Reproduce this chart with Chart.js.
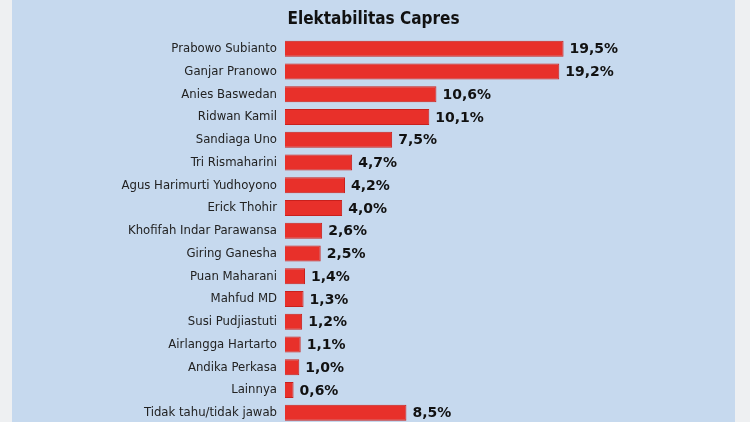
<!DOCTYPE html>
<html><head><meta charset="utf-8">
<script src="https://cdn.jsdelivr.net/npm/chart.js@4"></script>
<style>
html,body{margin:0;padding:0;width:750px;height:422px;overflow:hidden;background:#eef0f2;}
#wrap{position:absolute;left:12px;top:0;width:723px;height:432px;background:#c6d9ee;}
</style></head><body>
<div id="wrap"><canvas id="c" width="723" height="432"></canvas></div>
<script>
const categories=["Prabowo Subianto","Ganjar Pranowo","Anies Baswedan","Ridwan Kamil","Sandiaga Uno","Tri Rismaharini","Agus Harimurti Yudhoyono","Erick Thohir","Khofifah Indar Parawansa","Giring Ganesha","Puan Maharani","Mahfud MD","Susi Pudjiastuti","Airlangga Hartarto","Andika Perkasa","Lainnya","Tidak tahu/tidak jawab"];
const values=[19.5,19.2,10.6,10.1,7.5,4.7,4.2,4.0,2.6,2.5,1.4,1.3,1.2,1.1,1.0,0.6,8.5];
const labelPlugin={id:'vl',afterDatasetsDraw(ch){const c=ch.ctx;const m=ch.getDatasetMeta(0);c.save();c.font='bold 14px "DejaVu Sans", sans-serif';c.fillStyle='#111';c.textBaseline='middle';m.data.forEach((b,i)=>{c.fillText(values[i].toFixed(1).replace('.',',')+'%',b.x+6,b.y+1);});c.restore();}};
new Chart(document.getElementById('c'),{type:'bar',data:{labels:categories,datasets:[{data:values,backgroundColor:'#e8302a',borderColor:'#c9201c',borderWidth:1,barPercentage:0.7,categoryPercentage:1}]},
options:{indexAxis:'y',responsive:false,animation:false,layout:{padding:0},
plugins:{legend:{display:false},tooltip:{enabled:false},title:{display:true,text:'Elektabilitas Capres',color:'#111',font:{size:17,weight:'bold',family:'"DejaVu Sans Condensed","DejaVu Sans", sans-serif'},padding:{top:9,bottom:8}}},
scales:{x:{display:false,min:0,max:31.5},y:{grid:{display:false},border:{display:false},ticks:{color:'#222',padding:0,font:{size:13,family:'"DejaVu Sans Condensed","DejaVu Sans", sans-serif'}},afterFit(s){s.width=273;}}}},plugins:[labelPlugin]});
</script></body></html>
